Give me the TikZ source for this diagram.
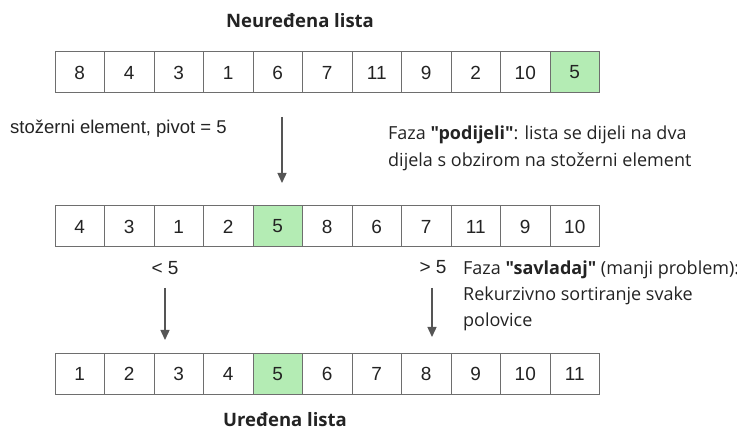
\documentclass[tikz,border=0pt]{standalone}
\usepackage{fontspec}
\setmainfont{Open Sans}[Ligatures=TeXOff]
\newfontfamily\numfont{Liberation Sans}
\usetikzlibrary{arrows.meta}
\definecolor{cellborder}{RGB}{110,110,110}
\definecolor{pivotgreen}{RGB}{180,236,180}
\definecolor{arrowgray}{RGB}{85,85,85}
\definecolor{txt}{RGB}{35,35,35}
\tikzset{
  cell/.style={draw=cellborder, line width=1pt, minimum width=49.5pt, minimum height=41pt, inner sep=0pt, font=\numfont\fontsize{19}{19}\selectfont, text=txt},
  pivcell/.style={cell, fill=pivotgreen},
  downarrow/.style={draw=arrowgray, line width=1.4pt, -{Triangle[length=10pt,width=9pt]}},
  label/.style={inner sep=0pt, text=txt},
}
\begin{document}
\begin{tikzpicture}[x=1pt,y=-1pt]
\useasboundingbox (0,0) rectangle (737,430);
% row 1
\foreach \v [count=\i] in {8,4,3,1,6,7,11,9,2,10} {
  \node[cell] (a\i) at ({55+49.5*(\i-0.5)},72.5) {\v};
}
\node[pivcell] (a11) at ({55+49.5*10.5},72.5) {5};
% row 2
\foreach \v [count=\i] in {4,3,1,2} {
  \node[cell] (b\i) at ({55+49.5*(\i-0.5)},226.5) {\v};
}
\node[pivcell] (b5) at ({55+49.5*4.5},226.5) {5};
\foreach \v [count=\i from 6] in {8,6,7,11,9,10} {
  \node[cell] (b\i) at ({55+49.5*(\i-0.5)},226.5) {\v};
}
% row 3
\foreach \v [count=\i] in {1,2,3,4} {
  \node[cell] (c\i) at ({55+49.5*(\i-0.5)},374) {\v};
}
\node[pivcell] (c5) at ({55+49.5*4.5},374) {5};
\foreach \v [count=\i from 6] in {6,7,8,9,10,11} {
  \node[cell] (c\i) at ({55+49.5*(\i-0.5)},374) {\v};
}
% texts
\node[label, font=\bfseries\fontsize{18.5}{18.5}\selectfont] (t1) at (300,21) {Neuređena lista};
\node[label, anchor=base west, font=\numfont\fontsize{18.5}{18.5}\selectfont] (piv) at (10,134) {stožerni element, pivot = 5};
\node[label, anchor=base west, align=left, font=\fontsize{18}{27}\selectfont] (faza1) at (388,167) {Faza \textbf{"podijeli"}: lista se dijeli na dva\\dijela s obzirom na stožerni element};
\node[label, font=\numfont\fontsize{19}{19}\selectfont] (lt) at (165,268) {< 5};
\node[label, font=\numfont\fontsize{19}{19}\selectfont] (gt) at (433,267) {> 5};
\node[label, anchor=base west, align=left, font=\fontsize{18}{26}\selectfont] (faza2) at (463,327) {Faza \textbf{"savladaj"} (manji problem):\\Rekurzivno sortiranje svake\\polovice};
\node[label, font=\bfseries\fontsize{18.5}{18.5}\selectfont] (t2) at (285,419.5) {Uređena lista};
% arrows
\coordinate (p1s) at (282,117);
\coordinate (p1e) at (282,183);
\coordinate (p2s) at (165,288);
\coordinate (p2e) at (165,340);
\coordinate (p3s) at (432,288);
\coordinate (p3e) at (432,337);
\draw[downarrow] (p1s) -- (p1e);
\draw[downarrow] (p2s) -- (p2e);
\draw[downarrow] (p3s) -- (p3e);
\end{tikzpicture}
\end{document}
